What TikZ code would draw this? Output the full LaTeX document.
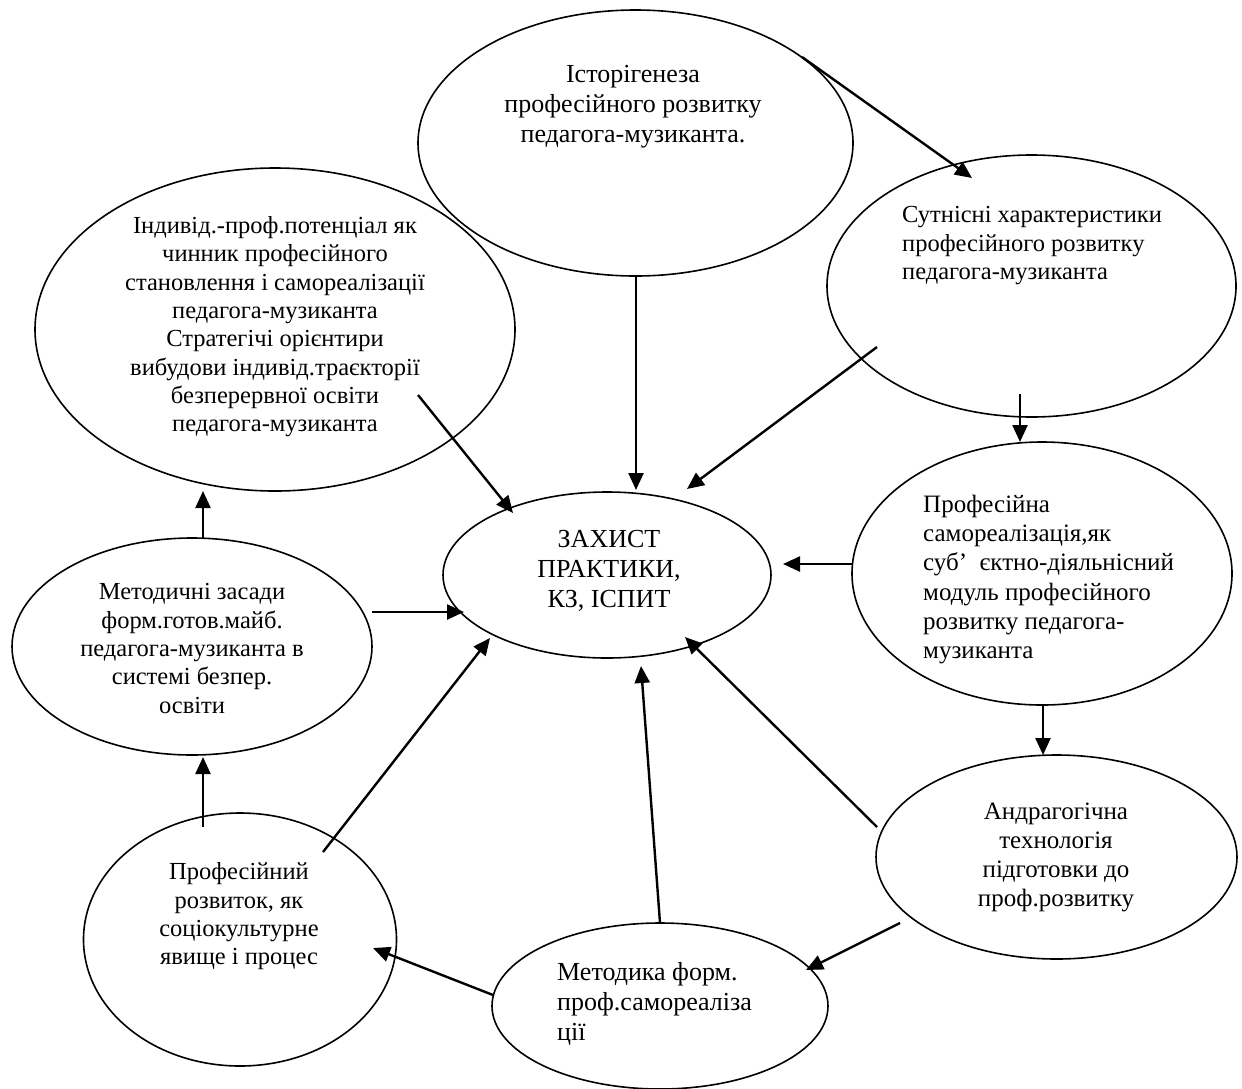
\documentclass[tikz,border=0pt]{standalone}
\usepackage{fontspec}
\setmainfont{Liberation Serif}
\usetikzlibrary{shapes.geometric,arrows.meta}
\tikzset{
  ell/.style={draw, ellipse, line width=1.6pt, inner sep=0pt},
  arr/.style={-{Triangle[length=17pt,width=15pt]}, line width=2.4pt},
  tA/.style={inner sep=0pt, font=\fontsize{26}{30}\selectfont},
  tB/.style={inner sep=0pt, font=\fontsize{24.5}{28.3}\selectfont},
  tC/.style={inner sep=0pt, font=\fontsize{25}{29.2}\selectfont},
}
\begin{document}
\begin{tikzpicture}[x=1pt,y=-1pt]
\useasboundingbox (0,0) rectangle (1242,1088);
% ellipses
\node[ell, minimum width=435pt, minimum height=266pt] (hist) at (635.5,143) {};
\node[ell, minimum width=480pt, minimum height=323pt] (indiv) at (275,329.5) {};
\node[ell, minimum width=409pt, minimum height=262pt] (sut) at (1031.5,286) {};
\node[ell, minimum width=380pt, minimum height=263pt] (samor) at (1042,573.5) {};
\node[ell, minimum width=361pt, minimum height=204pt] (andr) at (1056.5,857) {};
\node[ell, minimum width=328pt, minimum height=166pt] (zax) at (607,575) {};
\node[ell, minimum width=360pt, minimum height=217pt] (metz) at (192,646.5) {};
\node[ell, minimum width=313pt, minimum height=253pt] (rozv) at (240,939.5) {};
\node[ell, minimum width=336pt, minimum height=166pt] (metf) at (660,1006) {};
% texts
\node[tA, align=center, anchor=north] (histT) at (633,65.3) {Історігенеза\\професійного розвитку\\педагога-музиканта.};
\node[tB, align=center, anchor=north] (indivT) at (275,216.3) {Індивід.-проф.потенціал як\\чинник професійного\\становлення і самореалізації\\педагога-музиканта\\Стратегічі орієнтири\\вибудови індивід.траєкторії\\безперервної освіти\\педагога-музиканта};
\node[tB, align=left, anchor=north west] (sutT) at (902,206.3) {Сутнісні характеристики\\професійного розвитку\\педагога-музиканта};
\node[tC, align=left, anchor=north west] (samorT) at (923,495) {Професійна\\самореалізація,як\\суб’\ \ єктно-діяльнісний\\модуль професійного\\розвитку педагога-\\музиканта};
\node[tC, align=center, anchor=north] (andrT) at (1056,802.5) {Андрагогічна\\технологія\\підготовки до\\проф.розвитку};
\node[tA, align=center, anchor=north] (zaxT) at (609,529.8) {ЗАХИСТ\\ПРАКТИКИ,\\КЗ, ІСПИТ};
\node[tB, align=center, anchor=north] (metzT) at (192,583.5) {Методичні засади\\форм.готов.майб.\\педагога-музиканта в\\системі безпер.\\освіти};
\node[tB, align=center, anchor=north] (rozvT) at (239,862.5) {Професійний\\розвиток, як\\соціокультурне\\явище і процес};
\node[tA, align=left, anchor=north west] (metfT) at (557,962.3) {Методика форм.\\проф.самореаліза\\ції};
% arrow endpoints
\coordinate (a1) at (802,57);   \coordinate (a2) at (972,178);
\coordinate (b1) at (636,276);  \coordinate (b2) at (636,490);
\coordinate (c1) at (418,395);  \coordinate (c2) at (513,513);
\coordinate (d1) at (877,347);  \coordinate (d2) at (687,489);
\coordinate (e1) at (1020,394); \coordinate (e2) at (1020,442);
\coordinate (f1) at (852,564);  \coordinate (f2) at (783,564);
\coordinate (g1) at (1043,705); \coordinate (g2) at (1043,755);
\coordinate (h1) at (877,827);  \coordinate (h2) at (685,637);
\coordinate (i1) at (900,923);  \coordinate (i2) at (806,970);
\coordinate (j1) at (660,923);  \coordinate (j2) at (641,666);
\coordinate (k1) at (493,995);  \coordinate (k2) at (373,948);
\coordinate (l1) at (323,852);  \coordinate (l2) at (490,638);
\coordinate (m1) at (203,827);  \coordinate (m2) at (203,757);
\coordinate (n1) at (203,538);  \coordinate (n2) at (203,491);
\coordinate (o1) at (372,612);  \coordinate (o2) at (464,612);
\foreach \p in {a,b,c,d,e,f,g,h,i,j,k,l,m,n,o}{
  \draw[arr] (\p1) -- (\p2);
}
\end{tikzpicture}
\end{document}
